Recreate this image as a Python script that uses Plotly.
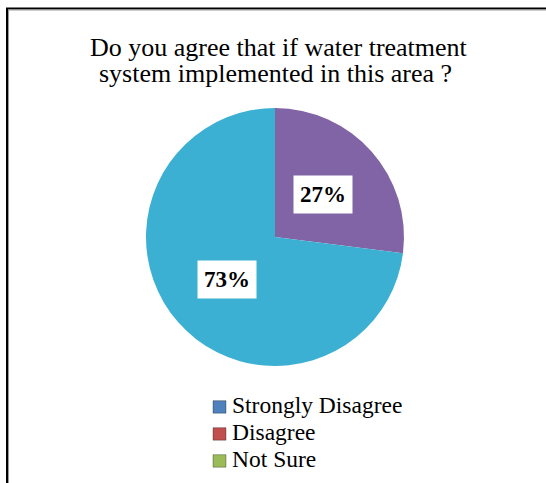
import math
import plotly.graph_objects as go

# Survey answers (percent of respondents)
categories = ["Strongly Disagree", "Disagree", "Not Sure", "Agree", "Strongly Agree"]
values = [0, 0, 0, 27, 73]
colors = ["#4F81BD", "#C0504D", "#9BBB59", "#8064A6", "#3BB0D2"]
legend_items = categories[:3]

title_lines = ["Do you agree that if water treatment", "system implemented in this area ?"]

W, H = 546, 483
SERIF = "Times New Roman, Liberation Serif, serif"

# Pie placement in pixels
cx, cy, r = 275, 237, 129


def px_x(x):
    return x / W


def px_y(y):
    return 1 - y / H


fig = go.Figure()
fig.add_trace(go.Pie(
    labels=categories,
    values=values,
    sort=False,
    direction="clockwise",
    rotation=0,
    marker=dict(colors=colors, line=dict(width=0)),
    textinfo="none",
    hoverinfo="label+percent",
    showlegend=False,
    domain=dict(x=[px_x(cx - r), px_x(cx + r)], y=[px_y(cy + r), px_y(cy - r)]),
))

annotations = []
shapes = []

# Percentage labels in white boxes, placed halfway along each slice's bisector
total = sum(values)
cum = 0
for v in values:
    if v > 0:
        mid = (cum + v / 2) / total * 2 * math.pi
        lx = cx + 0.5 * r * math.sin(mid)
        ly = cy - 0.5 * r * math.cos(mid)
        annotations.append(dict(
            x=px_x(lx), y=px_y(ly), xref="paper", yref="paper",
            text=f"<b>{v}%</b>", showarrow=False,
            font=dict(family=SERIF, size=23, color="black"),
            bgcolor="white", borderpad=6,
            xanchor="center", yanchor="middle",
        ))
    cum += v

# Title, one annotation per line for tight line spacing
for (line, xc, yc) in zip(title_lines, [279, 275], [47, 73.7]):
    annotations.append(dict(
        x=px_x(xc), y=px_y(yc), xref="paper", yref="paper",
        text=line, showarrow=False,
        font=dict(family=SERIF, size=26, color="black"),
        xanchor="center", yanchor="middle",
    ))

# Legend entries
for i, name in enumerate(legend_items):
    yc = 405.2 + 27 * i
    shapes.append(dict(
        type="rect", xref="paper", yref="paper",
        x0=px_x(213), x1=px_x(226), y0=px_y(yc + 8), y1=px_y(yc - 4.5),
        fillcolor=colors[categories.index(name)],
        line=dict(color="rgba(0,0,0,0.3)", width=1),
    ))
    annotations.append(dict(
        x=px_x(230), y=px_y(yc), xref="paper", yref="paper",
        text=name, showarrow=False,
        font=dict(family=SERIF, size=23.5, color="black"),
        xanchor="left", yanchor="middle",
    ))

# Chart frame
shapes.append(dict(
    type="rect", xref="paper", yref="paper",
    x0=px_x(7), x1=1.2, y0=-0.2, y1=px_y(8.5),
    line=dict(color="black", width=2), fillcolor="rgba(0,0,0,0)",
))
shapes.append(dict(
    type="rect", xref="paper", yref="paper",
    x0=px_x(8.5), x1=1.2, y0=-0.2, y1=px_y(10),
    line=dict(color="#9a9a9a", width=1), fillcolor="rgba(0,0,0,0)",
))

fig.update_layout(
    width=W, height=H,
    margin=dict(l=0, r=0, t=0, b=0),
    paper_bgcolor="white",
    plot_bgcolor="white",
    annotations=annotations,
    shapes=shapes,
)

fig.write_html("out.html")
